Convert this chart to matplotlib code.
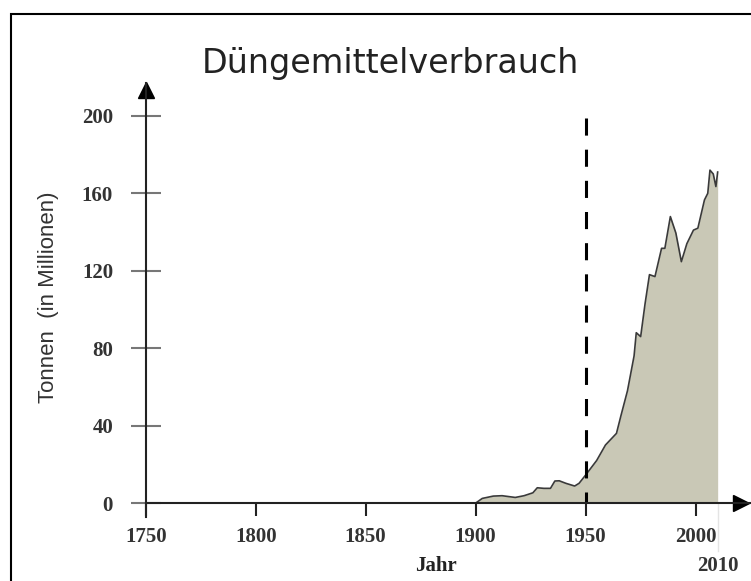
import matplotlib
matplotlib.use("Agg")
from matplotlib import pyplot as plt
from matplotlib.patches import Rectangle

# Duengemittelverbrauch, Welt, Millionen Tonnen
years = [1900, 1903, 1908, 1912, 1918, 1922, 1926, 1928, 1931, 1934,
         1936, 1938, 1941, 1945, 1947, 1950, 1955, 1959, 1964, 1966,
         1969, 1972, 1973, 1975, 1977, 1979, 1981.5, 1984.5, 1986, 1988.5,
         1991, 1993.5, 1996, 1999, 2001, 2004, 2005.5, 2006.5, 2008, 2009.2,
         2010]
tonnes = [0, 2.4, 3.6, 3.8, 2.9, 3.8, 5.3, 7.9, 7.6, 7.6,
          11.4, 11.5, 10.2, 8.8, 10.2, 14.5, 22, 30, 36, 45,
          58, 76, 88, 86, 103, 118, 117, 131.6, 131.6, 148,
          139.5, 124.7, 134, 141, 142, 156.6, 160, 172, 170, 163.5,
          171]

x_ticks = [1750, 1800, 1850, 1900, 1950, 2000]
y_ticks = [0, 40, 80, 120, 160, 200]
marker_year = 1950

serif = "Liberation Serif"

fig = plt.figure(figsize=(7.51, 5.81), dpi=100)
ax = fig.add_axes([145.7 / 751, 64 / 581, 604.3 / 751, 434 / 581])

ax.set_xlim(1750, 2024.7)
ax.set_ylim(-7.2, 217)

# the area
ax.fill_between(years, tonnes, 0, color="#c9c8b6", lw=0)
ax.plot(years, tonnes, color="#3a3a3a", lw=1.2)

# dashed line at 1950, drawn from the top so the dashes start there
ax.plot([marker_year, marker_year], [199, 0], color="black", lw=2.2,
        linestyle=(0, (5.6, 4.6)))

# faint line under the end of the area down to "2010"
ax.plot([years[-1], years[-1]], [0, -25], color="#e4e4e4", lw=1.0,
        clip_on=False)

# axes as arrows
for side in ["top", "right"]:
    ax.spines[side].set_visible(False)
ax.spines["bottom"].set_position(("data", 0))
ax.spines["bottom"].set_color("#222222")
ax.spines["left"].set_color("#222222")
ax.spines["bottom"].set_linewidth(1.5)
ax.spines["left"].set_linewidth(1.5)
ax.plot(2020.8, 0, ">", color="black", ms=11, clip_on=False)
ax.plot(1750, 213.4, "^", color="black", ms=11, clip_on=False)

ax.set_xticks(x_ticks)
ax.set_yticks(y_ticks)
ax.tick_params(axis="x", direction="out", length=9.5, width=1.5,
               color="#222222", pad=8)
ax.tick_params(axis="y", direction="inout", length=21, width=1.5,
               color="#777777", pad=13)
for lab in ax.get_xticklabels() + ax.get_yticklabels():
    lab.set_fontfamily(serif)
    lab.set_fontsize(15)
    lab.set_fontweight("bold")
    lab.set_color("#333333")

ax.text(years[-1], -32.6, "2010", ha="center", va="center",
        fontfamily=serif, fontsize=15, fontweight="bold", color="#333333",
        clip_on=False)

fig.text(435.5 / 751, 1 - 566 / 581, "Jahr", ha="center", va="center",
         fontfamily=serif, fontsize=15, fontweight="bold", color="#222222")
fig.text(49 / 751, 1 - 297 / 581, "Tonnen  (in Millionen)", rotation=90,
         ha="center", va="center", fontfamily="Liberation Sans",
         fontsize=16, color="#333333")
fig.text(390 / 751, 1 - 73.3 / 581, "Düngemittelverbrauch", ha="center",
         va="baseline", fontfamily="DejaVu Sans", fontsize=24,
         color="#222222")

# frame round the picture, running off right and bottom
fig.add_artist(Rectangle((11 / 751, -0.1), 2, 1 - 13.5 / 581 + 0.1,
                         transform=fig.transFigure, fill=False,
                         lw=1.5, ec="black"))

fig.savefig("out.png", dpi=100)
